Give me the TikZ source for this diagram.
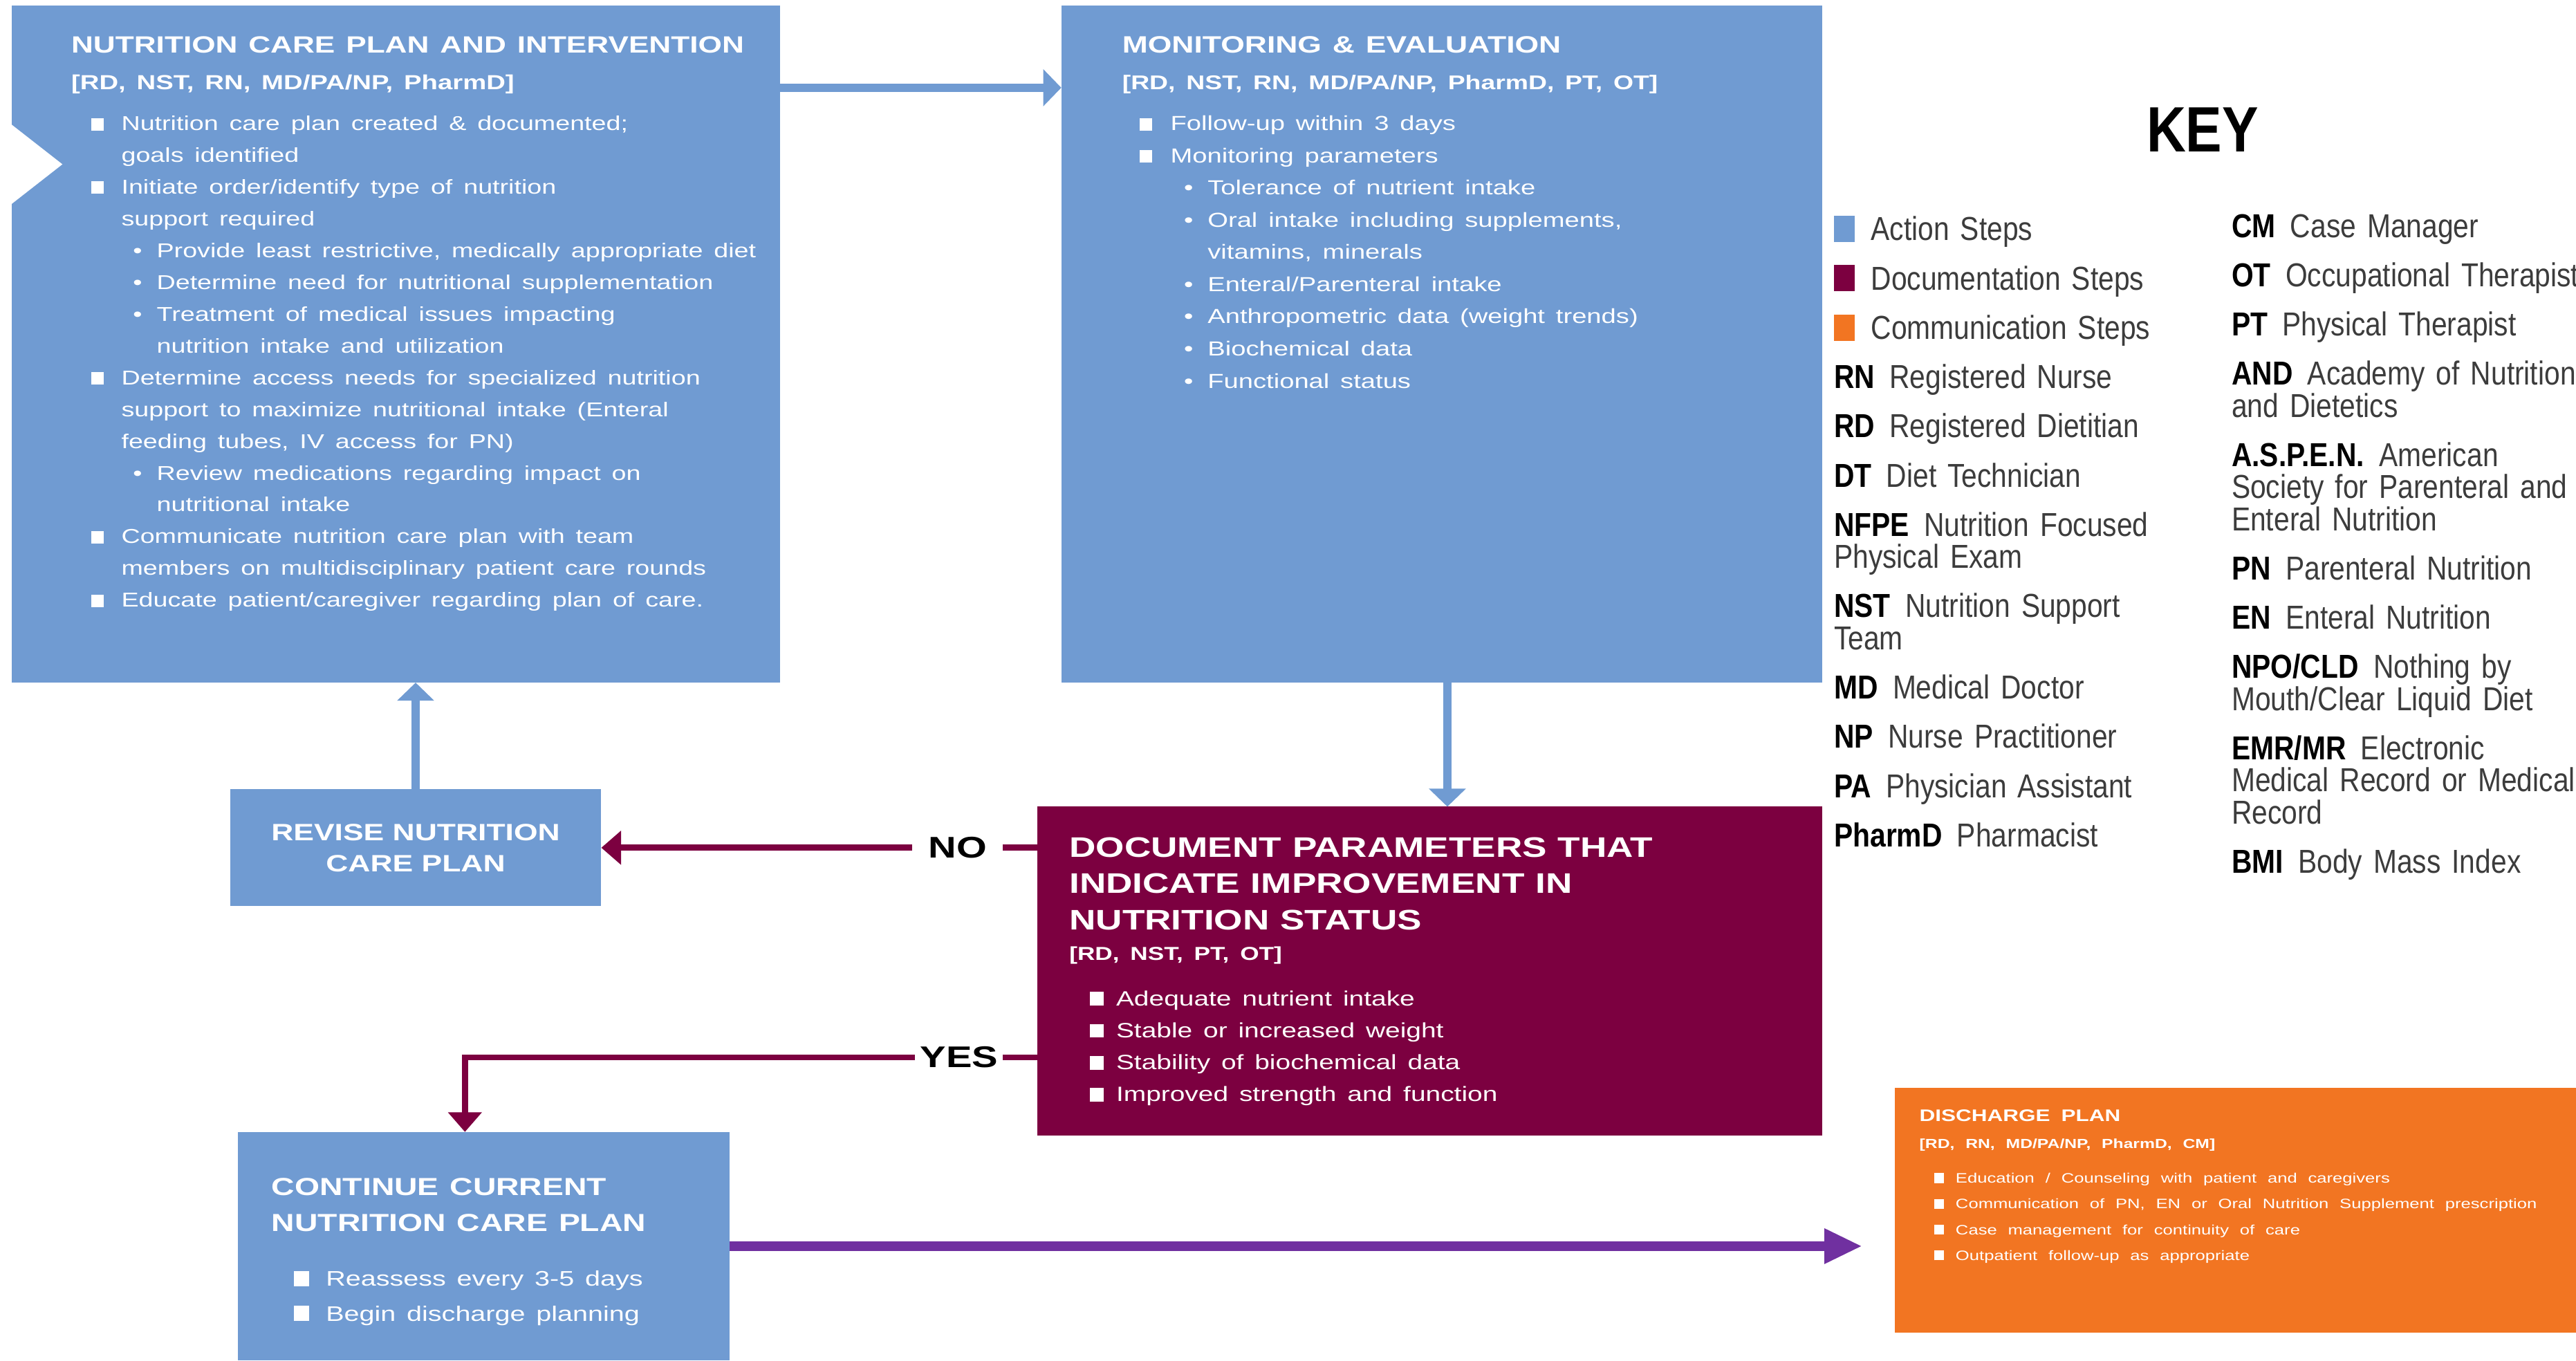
\documentclass[tikz,border=0pt]{standalone}
\usepackage{fontspec}
\setmainfont{Liberation Sans}[FakeStretch=1.3]
\newfontfamily\keyfont{Liberation Sans}[FakeStretch=0.85]
\usepackage{xcolor}
\usetikzlibrary{arrows.meta}
\definecolor{actionblue}{HTML}{709BD2}
\definecolor{docred}{HTML}{7C0040}
\definecolor{commorange}{HTML}{F27522}
\definecolor{dischpurple}{HTML}{7030A0}
\definecolor{keygray}{HTML}{3C3C3C}

\newlength{\bulind}\newlength{\bulsz}\newlength{\bultxt}
\newcommand{\setfs}[2]{\fontsize{#1}{#2}\selectfont}
\newcommand{\bulset}[3]{\setlength{\bulind}{#1}\setlength{\bulsz}{#2}\setlength{\bultxt}{#3}}
\newcommand{\sqi}{\par\hangindent=\bultxt\hangafter=1\noindent\hspace*{\bulind}\makebox[\dimexpr\bultxt-\bulind\relax][l]{\rule{\bulsz}{\bulsz}}}
\newcommand{\dti}{\par\hangindent=26pt\hangafter=1\noindent\hspace*{18.8pt}\makebox[7.2pt][l]{\textbullet}}
\newcommand{\nl}{\hfil\break}
\newcommand{\keyab}[1]{{\color{black}\bfseries #1}\hspace{4.5pt}}
\newcommand{\keysq}[1]{{\color{#1}\rule[-0.5pt]{6.25pt}{8pt}}\hspace{5pt}}
\newcommand{\topfix}{\rule{0pt}{8pt}}

\tikzset{
  stepbox/.style={anchor=north west, inner sep=0pt, outer sep=0pt},
  boxtext/.style={anchor=north west, inner sep=0pt, text=white},
  keytext/.style={anchor=north west, inner sep=0pt, text=keygray, font=\keyfont\setfs{10.1pt}{9.75pt}},
  flow/.style={line width=2.6pt, actionblue, -{Triangle[width=11pt,length=5.5pt]}},
  decision/.style={line width=1.85pt, docred, -{Triangle[width=10pt,length=6pt]}},
  answer/.style={fill=white, inner ysep=1pt, text=black, font=\bfseries\setfs{9.1pt}{10pt}},
}

\begin{document}
\begin{tikzpicture}[x=0.5pt, y=-0.5pt]
\useasboundingbox (0,0) rectangle (1568,828);

% step boxes
\node[stepbox, fill=actionblue, minimum width=234pt, minimum height=206pt] (careplan) at (7,3.5) {};
\fill[white] (6,75) -- (38,100) -- (6,125) -- cycle;
\node[stepbox, fill=actionblue, minimum width=231.5pt, minimum height=206pt] (monitor) at (646,3.5) {};
\node[stepbox, fill=docred, minimum width=238.75pt, minimum height=100pt] (doc) at (631.5,491) {};
\node[stepbox, fill=actionblue, minimum width=113pt, minimum height=35.5pt,
      text=white, align=center, font=\bfseries\setfs{7.2pt}{9.5pt}] (revise) at (140,480.5) {REVISE NUTRITION\\CARE PLAN};
\node[stepbox, fill=actionblue, minimum width=149.5pt, minimum height=69.5pt] (cont) at (145,689) {};
\node[stepbox, fill=commorange, minimum width=210pt, minimum height=74.5pt] (discharge) at (1153.5,662) {};

% connectors
\coordinate (linkrow) at (0,53.4);
\coordinate (evalcol) at (881,0);
\coordinate (yesturn) at (283,643.6);
\draw[flow] (careplan.east |- linkrow) -- (monitor.west |- linkrow);
\draw[flow] (monitor.south -| evalcol) -- (doc.north -| evalcol);
\draw[flow] (revise.north) -- (careplan.south -| revise.north);
\draw[decision] (doc.west |- revise.east) -- node[answer, inner xsep=4.9pt, pos=0.183] {NO} (revise.east);
\draw[decision] (doc.west |- yesturn) -- node[answer, inner xsep=1.5pt, pos=0.137] {YES} (yesturn) -- (yesturn |- cont.north);
\draw[line width=2.8pt, dischpurple, -{Triangle[width=10pt,length=11.5pt]}, shorten >=10pt]
  (cont.east) -- (discharge.west |- cont.east);

% box texts
\node[boxtext, text width=225pt] (careplantxt) at (43,15.6) {%
  \setfs{7.15pt}{9pt}\bfseries\noindent\topfix NUTRITION CARE PLAN AND INTERVENTION\par
  \setfs{6.2pt}{11.2pt}\noindent [RD, NST, RN, MD/PA/NP, PharmD]\par
  \setfs{6.1pt}{9.67pt}\mdseries\vspace{2.83pt}\bulset{6pt}{3.8pt}{15.25pt}%
  \sqi Nutrition care plan created \& documented;\nl goals identified
  \sqi Initiate order/identify type of nutrition\nl support required
  \dti Provide least restrictive, medically appropriate diet
  \dti Determine need for nutritional supplementation
  \dti Treatment of medical issues impacting\nl nutrition intake and utilization
  \sqi Determine access needs for specialized nutrition\nl support to maximize nutritional intake (Enteral\nl feeding tubes, IV access for PN)
  \dti Review medications regarding impact on\nl nutritional intake
  \sqi Communicate nutrition care plan with team\nl members on multidisciplinary patient care rounds
  \sqi Educate patient/caregiver regarding plan of care.\par};

\node[boxtext, text width=210pt] (monitortxt) at (682.7,15.6) {%
  \setfs{7.2pt}{9pt}\bfseries\noindent\topfix MONITORING \& EVALUATION\par
  \setfs{6.05pt}{11.2pt}\noindent [RD, NST, RN, MD/PA/NP, PharmD, PT, OT]\par
  \setfs{6.18pt}{9.8pt}\mdseries\vspace{2.7pt}\bulset{5.2pt}{3.8pt}{14.7pt}%
  \sqi Follow-up within 3 days
  \sqi Monitoring parameters
  \dti Tolerance of nutrient intake
  \dti Oral intake including supplements,\nl vitamins, minerals
  \dti Enteral/Parenteral intake
  \dti Anthropometric data (weight trends)
  \dti Biochemical data
  \dti Functional status\par};

\node[boxtext, text width=225pt] (doctxt) at (650.5,505.4) {%
  \setfs{8.6pt}{11pt}\bfseries\noindent\topfix DOCUMENT PARAMETERS THAT\nl INDICATE IMPROVEMENT IN\nl NUTRITION STATUS\par
  \setfs{5.7pt}{9.3pt}\noindent [RD, NST, PT, OT]\par
  \setfs{6.3pt}{9.7pt}\mdseries\vspace{4.2pt}\bulset{6.25pt}{4.2pt}{14.25pt}%
  \sqi Adequate nutrient intake
  \sqi Stable or increased weight
  \sqi Stability of biochemical data
  \sqi Improved strength and function\par};

\node[boxtext, text width=140pt] (conttxt) at (165,711) {%
  \setfs{7.5pt}{11pt}\bfseries\noindent\topfix CONTINUE CURRENT\nl NUTRITION CARE PLAN\par
  \setfs{6.4pt}{10.6pt}\mdseries\vspace{6.15pt}\bulset{6.75pt}{4.6pt}{16.5pt}%
  \sqi Reassess every 3-5 days
  \sqi Begin discharge planning\par};

\node[boxtext, text width=230pt] (dischargetxt) at (1168,666) {%
  \setfs{5.1pt}{7pt}\bfseries\noindent\topfix DISCHARGE PLAN\par
  \setfs{4pt}{8.25pt}\noindent [RD, RN, MD/PA/NP, PharmD, CM]\par
  \setfs{4.15pt}{7.83pt}\mdseries\vspace{2.77pt}\bulset{4.5pt}{3pt}{11pt}%
  \sqi Education / Counseling with patient and caregivers
  \sqi Communication of PN, EN or Oral Nutrition Supplement prescription
  \sqi Case management for continuity of care
  \sqi Outpatient follow-up as appropriate\par};

% key
\node[font=\keyfont\bfseries\setfs{19.5pt}{20pt}, inner sep=0pt] (keytitle) at (1340.7,78.8) {KEY};
\node[keytext, text width=125pt] (keyleft) at (1116,130) {%
  \noindent\topfix\keysq{actionblue}Action Steps\\[5.25pt]
  \keysq{docred}Documentation Steps\\[5.25pt]
  \keysq{commorange}Communication Steps\\[5.25pt]
  \keyab{RN}Registered Nurse\\[5.25pt]
  \keyab{RD}Registered Dietitian\\[5.25pt]
  \keyab{DT}Diet Technician\\[5.25pt]
  \keyab{NFPE}Nutrition Focused\\Physical Exam\\[5.25pt]
  \keyab{NST}Nutrition Support\\Team\\[5.25pt]
  \keyab{MD}Medical Doctor\\[5.25pt]
  \keyab{NP}Nurse Practitioner\\[5.25pt]
  \keyab{PA}Physician Assistant\\[5.25pt]
  \keyab{PharmD}Pharmacist};
\node[keytext, text width=125pt] (keyright) at (1358,128) {%
  \noindent\topfix\keyab{CM}Case Manager\\[5.25pt]
  \keyab{OT}Occupational Therapist\\[5.25pt]
  \keyab{PT}Physical Therapist\\[5.25pt]
  \keyab{AND}Academy of Nutrition\\and Dietetics\\[5.25pt]
  \keyab{A.S.P.E.N.}American\\Society for Parenteral and\\Enteral Nutrition\\[5.25pt]
  \keyab{PN}Parenteral Nutrition\\[5.25pt]
  \keyab{EN}Enteral Nutrition\\[5.25pt]
  \keyab{NPO/CLD}Nothing by\\Mouth/Clear Liquid Diet\\[5.25pt]
  \keyab{EMR/MR}Electronic\\Medical Record or Medical\\Record\\[5.25pt]
  \keyab{BMI}Body Mass Index};
\end{tikzpicture}
\end{document}
